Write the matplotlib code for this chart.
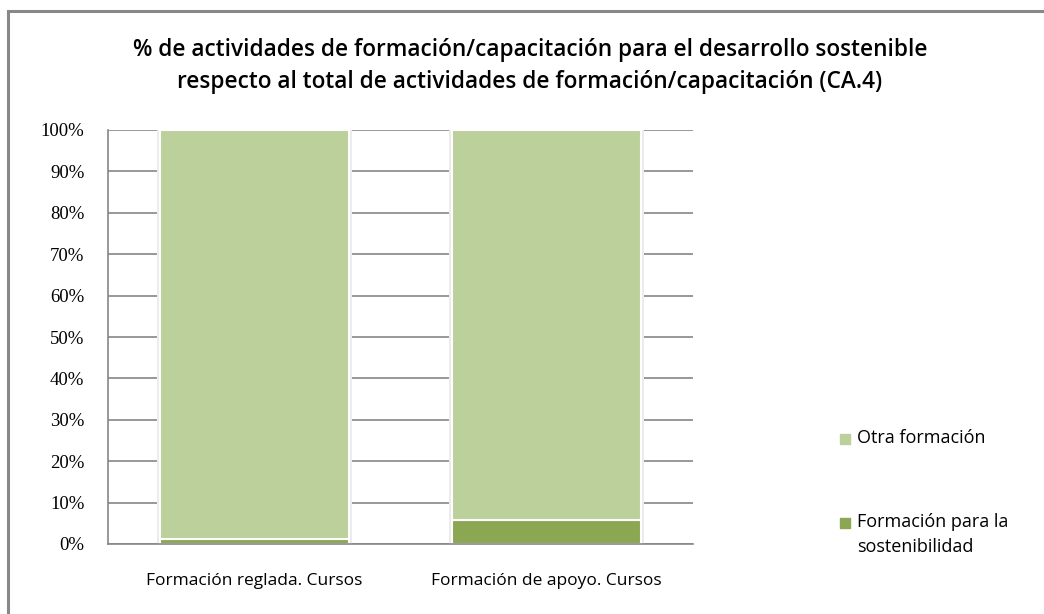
"""% de actividades de formación para el desarrollo sostenible (CA.4)."""

import matplotlib.pyplot as plt
from matplotlib.patches import Rectangle
from matplotlib.ticker import MultipleLocator, FuncFormatter

categories = ["Formación reglada. Cursos", "Formación de apoyo. Cursos"]
sostenibilidad = [1.2, 5.8]
otra = [98.8, 94.2]
series_names = ["Otra formación", "Formación para la\nsostenibilidad"]

col_light = "#BBD09A"
col_dark = "#8BA752"

fig = plt.figure(figsize=(10.44, 6.14), dpi=100)
W, H = 1044, 614
# plot area in pixels: x 108..693, y 130..544
ax = fig.add_axes([108 / W, 1 - 544 / H, (693 - 108) / W, (544 - 130) / H])

x = range(len(categories))
width = 0.645

# faint shadow behind the bars
totals = [a + b for a, b in zip(sostenibilidad, otra)]
ax.bar(x, totals, width=width + 0.022, color="#ececec", zorder=1)

ax.bar(x, sostenibilidad, width=width, color=col_dark, edgecolor="white",
       linewidth=1.5, zorder=2)
ax.bar(x, otra, bottom=sostenibilidad, width=width, color=col_light,
       edgecolor="white", linewidth=1.5, zorder=2)

ax.set_xlim(-0.5, 1.5)
ax.set_ylim(0, 100)
ax.yaxis.set_major_locator(MultipleLocator(10))
ax.yaxis.set_major_formatter(FuncFormatter(lambda v, p: f"{v:.0f}%"))
ax.grid(axis="y", color="#868686", linewidth=1.2, zorder=0)
ax.set_axisbelow(True)
for s in ["top", "right"]:
    ax.spines[s].set_visible(False)
for s in ["left", "bottom"]:
    ax.spines[s].set_color("#868686")
    ax.spines[s].set_linewidth(1.2)
ax.tick_params(axis="y", length=0, pad=17, labelsize=13.5)
ax.tick_params(axis="x", length=0, pad=21)
for lab in ax.get_yticklabels():
    lab.set_family("Liberation Serif")
ax.set_xticks(list(x))
ax.set_xticklabels(categories, fontsize=12.5, family="Open Sans")

fig.text(530 / W, 1 - 66 / H,
         "% de actividades de formación/capacitación para el desarrollo sostenible\n"
         "respecto al total de actividades de formación/capacitación (CA.4)",
         ha="center", va="center", fontsize=16.3, family="Open Sans",
         weight="semibold", linespacing=1.42)

# legend, swatch aligned with the first line of each label
legend_items = [(series_names[0], col_light, 439), (series_names[1], col_dark, 523)]
for label, color, ypix in legend_items:
    fig.patches.append(Rectangle((840 / W, 1 - (ypix + 5) / H), 10 / W, 10 / H,
                                 transform=fig.transFigure, color=color))
    fig.text(857 / W, 1 - (ypix - 10) / H, label, ha="left", va="top",
             fontsize=13, family="Open Sans", linespacing=1.5)

# outer chart border (top and left visible)
fig.patches.append(Rectangle((8 / W, -0.1), 1.2, 1 - 11 / H + 0.1,
                             transform=fig.transFigure, fill=False,
                             edgecolor="#888888", linewidth=2.2))

plt.savefig("out.png", dpi=100)
